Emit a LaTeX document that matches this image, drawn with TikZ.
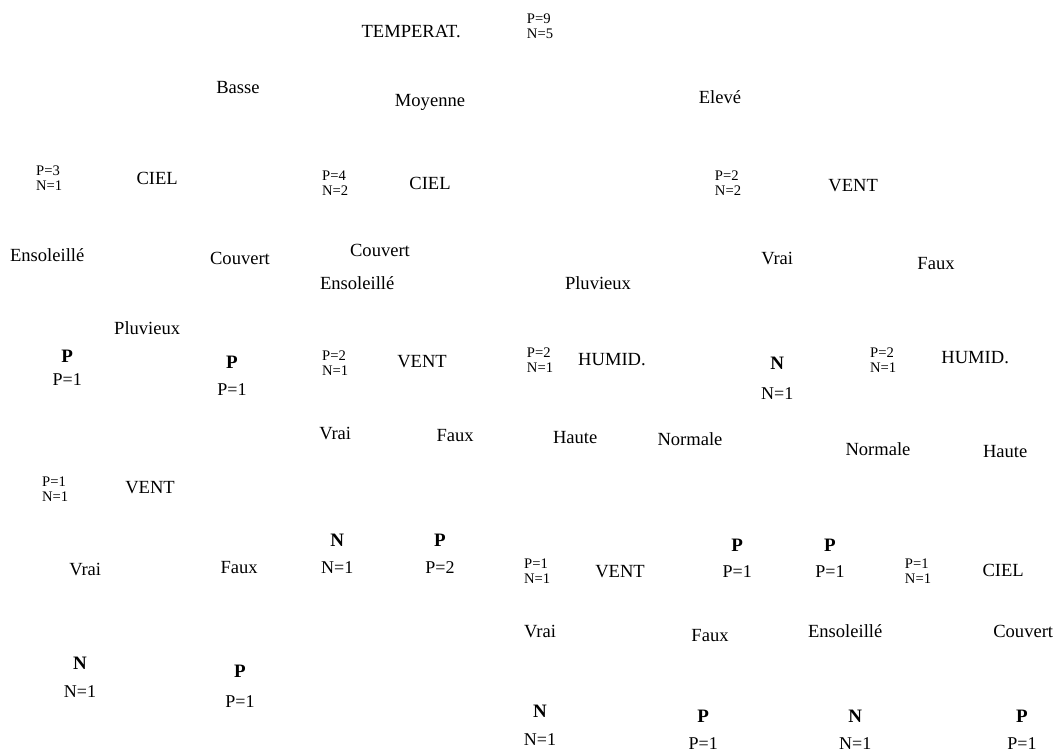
\documentclass[tikz,border=0pt]{standalone}
\usepackage{fontspec}
\setmainfont{Liberation Serif}
\tikzset{
  lbl/.style={inner sep=0pt, font=\fontsize{13.2}{14}\selectfont},
  cnt/.style={inner sep=0pt, align=left, font=\fontsize{10.4}{10.2}\selectfont},
  leaf/.style={inner sep=0pt, font=\fontsize{13.5}{15}\selectfont\bfseries},
  val/.style={inner sep=0pt, font=\fontsize{12.8}{14}\selectfont}
}
\begin{document}
\begin{tikzpicture}
\useasboundingbox (0,0) rectangle (26.325,-18.85);
% racine
\node[lbl] (temp) at (10.28,-0.78) {TEMPERAT.};
\node[cnt] (c0) at (13.50,-0.66) {P=9\\N=5};
\node[lbl] (basse) at (5.95,-2.18) {Basse};
\node[lbl] (moy) at (10.75,-2.55) {Moyenne};
\node[lbl] (elev) at (18.00,-2.43) {Elevé};
% niveau 2
\node[cnt] (c1) at (1.23,-4.45) {P=3\\N=1};
\node[lbl] (ciel1) at (3.93,-4.45) {CIEL};
\node[cnt] (c2) at (8.38,-4.58) {P=4\\N=2};
\node[lbl] (ciel2) at (10.75,-4.58) {CIEL};
\node[cnt] (c3) at (18.20,-4.58) {P=2\\N=2};
\node[lbl] (vent1) at (21.33,-4.63) {VENT};
\node[lbl] (ens1) at (1.18,-6.38) {Ensoleillé};
\node[lbl] (couv1) at (6.00,-6.45) {Couvert};
\node[lbl] (couv2) at (9.50,-6.25) {Couvert};
\node[lbl] (ens2) at (8.93,-7.08) {Ensoleillé};
\node[lbl] (pluv2) at (14.95,-7.08) {Pluvieux};
\node[lbl] (vrai1) at (19.43,-6.45) {Vrai};
\node[lbl] (faux1) at (23.40,-6.58) {Faux};
\node[lbl] (pluv1) at (3.68,-8.20) {Pluvieux};
% niveau 3
\node[leaf] (f1) at (1.68,-8.90) {P};
\node[val] (v1) at (1.68,-9.50) {P=1};
\node[leaf] (f2) at (5.80,-9.05) {P};
\node[val] (v2) at (5.80,-9.73) {P=1};
\node[cnt] (c4) at (8.38,-9.08) {P=2\\N=1};
\node[lbl] (vent2) at (10.55,-9.03) {VENT};
\node[cnt] (c5) at (13.50,-9.00) {P=2\\N=1};
\node[lbl] (humid1) at (15.30,-8.98) {HUMID.};
\node[leaf] (f3) at (19.43,-9.08) {N};
\node[val] (v3) at (19.43,-9.85) {N=1};
\node[cnt] (c6) at (22.08,-9.00) {P=2\\N=1};
\node[lbl] (humid2) at (24.38,-8.95) {HUMID.};
\node[lbl] (vrai2) at (8.38,-10.83) {Vrai};
\node[lbl] (faux2) at (11.38,-10.88) {Faux};
\node[lbl] (haute1) at (14.38,-10.93) {Haute};
\node[lbl] (norm1) at (17.25,-10.98) {Normale};
\node[lbl] (norm2) at (21.95,-11.23) {Normale};
\node[lbl] (haute2) at (25.13,-11.28) {Haute};
\node[cnt] (c7) at (1.38,-12.23) {P=1\\N=1};
\node[lbl] (vent3) at (3.75,-12.18) {VENT};
% niveau 4
\node[leaf] (f4) at (8.43,-13.50) {N};
\node[val] (v4) at (8.43,-14.18) {N=1};
\node[leaf] (f5) at (11.00,-13.50) {P};
\node[val] (v5) at (11.00,-14.18) {P=2};
\node[lbl] (vrai3) at (2.13,-14.23) {Vrai};
\node[lbl] (faux3) at (5.98,-14.18) {Faux};
\node[cnt] (c8) at (13.43,-14.28) {P=1\\N=1};
\node[lbl] (vent4) at (15.50,-14.28) {VENT};
\node[leaf] (f6) at (18.43,-13.63) {P};
\node[val] (v6) at (18.43,-14.28) {P=1};
\node[leaf] (f7) at (20.75,-13.63) {P};
\node[val] (v7) at (20.75,-14.28) {P=1};
\node[cnt] (c9) at (22.95,-14.28) {P=1\\N=1};
\node[lbl] (ciel3) at (25.08,-14.25) {CIEL};
\node[lbl] (vrai4) at (13.50,-15.78) {Vrai};
\node[lbl] (faux4) at (17.75,-15.90) {Faux};
\node[lbl] (ens3) at (21.13,-15.78) {Ensoleillé};
\node[lbl] (couv3) at (25.58,-15.78) {Couvert};
% feuilles du bas
\node[leaf] (f8) at (2.00,-16.58) {N};
\node[val] (v8) at (2.00,-17.28) {N=1};
\node[leaf] (f9) at (6.00,-16.78) {P};
\node[val] (v9) at (6.00,-17.53) {P=1};
\node[leaf] (f10) at (13.50,-17.78) {N};
\node[val] (v10) at (13.50,-18.48) {N=1};
\node[leaf] (f11) at (17.58,-17.90) {P};
\node[val] (v11) at (17.58,-18.58) {P=1};
\node[leaf] (f12) at (21.38,-17.90) {N};
\node[val] (v12) at (21.38,-18.58) {N=1};
\node[leaf] (f13) at (25.55,-17.90) {P};
\node[val] (v13) at (25.55,-18.58) {P=1};
\end{tikzpicture}
\end{document}
